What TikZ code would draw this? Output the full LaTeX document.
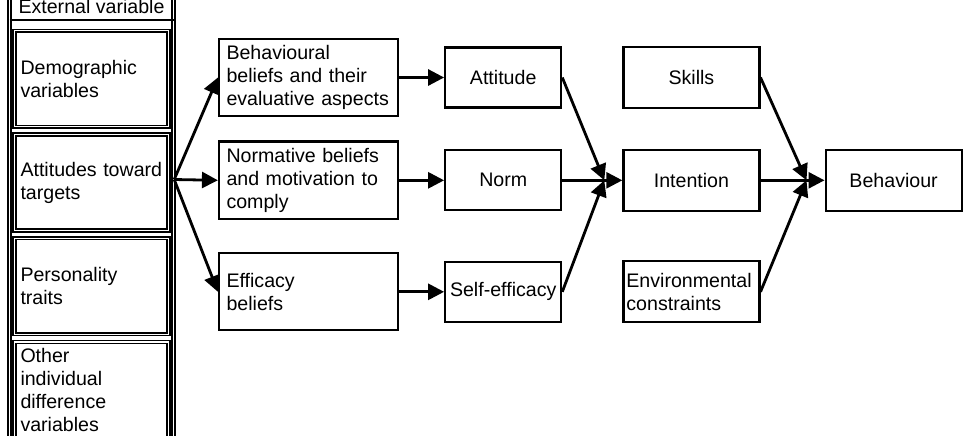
\documentclass[tikz,border=0pt]{standalone}
\usepackage{fontspec}
\setmainfont{Liberation Sans}
\usepackage{tikz}
\usetikzlibrary{arrows.meta, positioning}
\newcommand{\diagfont}{\fontsize{9.8}{11.5}\selectfont}
\tikzset{
  frame/.style={draw, line width=0.7pt, double, double distance=0.9pt},
  extvar/.style={rectangle, draw, line width=0.7pt, double, double distance=0.7pt, minimum width=77pt, minimum height=48pt, text width=71pt, inner xsep=3pt, align=left, font=\diagfont},
  belief/.style={rectangle, draw, line width=1.1pt, minimum height=38.5pt, text width=82pt, inner xsep=3.75pt, align=left, font=\diagfont},
  construct/.style={rectangle, draw, line width=1.1pt, minimum width=58pt, minimum height=30pt, inner sep=1pt, align=center, font=\diagfont},
  outcome/.style={rectangle, draw, line width=1.1pt, minimum width=68pt, minimum height=30.5pt, inner sep=1pt, align=center, font=\diagfont},
  arr/.style={-{Triangle[length=8pt, width=8pt]}, line width=1.4pt},
}

\begin{document}
\begin{tikzpicture}[x=1pt, y=-1pt, node distance=22.5pt]
\useasboundingbox (0,0) rectangle (484,217.5);
\draw[frame] (4.75,-5) rectangle (86.75,225);
\draw[line width=1.1pt] (4.75,10) -- (86.75,10);
\node[anchor=base, font=\diagfont] (hdr) at (45.75,6.5) {External variable};
\node[extvar] (dem) at (45.75,39.35) {Demographic\\variables};
\node[extvar, below=3.2pt of dem] (atg) {Attitudes toward\\targets};
\node[extvar, below=3.2pt of atg] (pers) {Personality\\traits};
\node[extvar, below=3.2pt of pers] (oth) {Other\\individual\\difference\\variables};
\coordinate (fan) at ([xshift=2.5pt, yshift=1.5pt]atg.east);
\node[belief] (bb) at (154.25,38.75) {Behavioural\\beliefs and their\\evaluative aspects};
\node[belief, below=11.5pt of bb] (nb) {Normative beliefs\\and motivation to\\comply};
\node[belief, below=16pt of nb] (eb) {Efficacy\\beliefs};
\node[construct, right=of bb] (att) {Attitude};
\node[construct, right=of nb] (nrm) {Norm};
\node[construct, right=of eb] (se) {Self-efficacy};
\node[outcome, right=30pt of att] (sk) {Skills};
\node[outcome, right=30pt of nrm] (int) {Intention};
\node[outcome, right=30pt of se, text width=65pt, inner xsep=1.5pt, align=left] (env) {Environmental\\constraints};
\node[outcome, right=32pt of int] (bhv) {Behaviour};
\coordinate (jn1) at ([xshift=-9pt]int.west);
\coordinate (jn2) at ([xshift=-9pt]bhv.west);
\draw[arr] (fan) -- (bb.west);
\draw[arr] (fan) -- (nb.west);
\draw[arr] (fan) -- (eb.west);
\draw[arr] (bb.east) -- (bb.east -| att.west);
\draw[arr] (nb.east) -- (nb.east -| nrm.west);
\draw[arr] (eb.east) -- (eb.east -| se.west);
\draw[arr] (att.east) -- (jn1);
\draw[arr] (se.east) -- (jn1);
\draw[arr] (nrm) -- (int);
\draw[arr] (sk.east) -- (jn2);
\draw[arr] (env.east) -- (jn2);
\draw[arr] (int) -- (bhv);
\end{tikzpicture}
\end{document}
